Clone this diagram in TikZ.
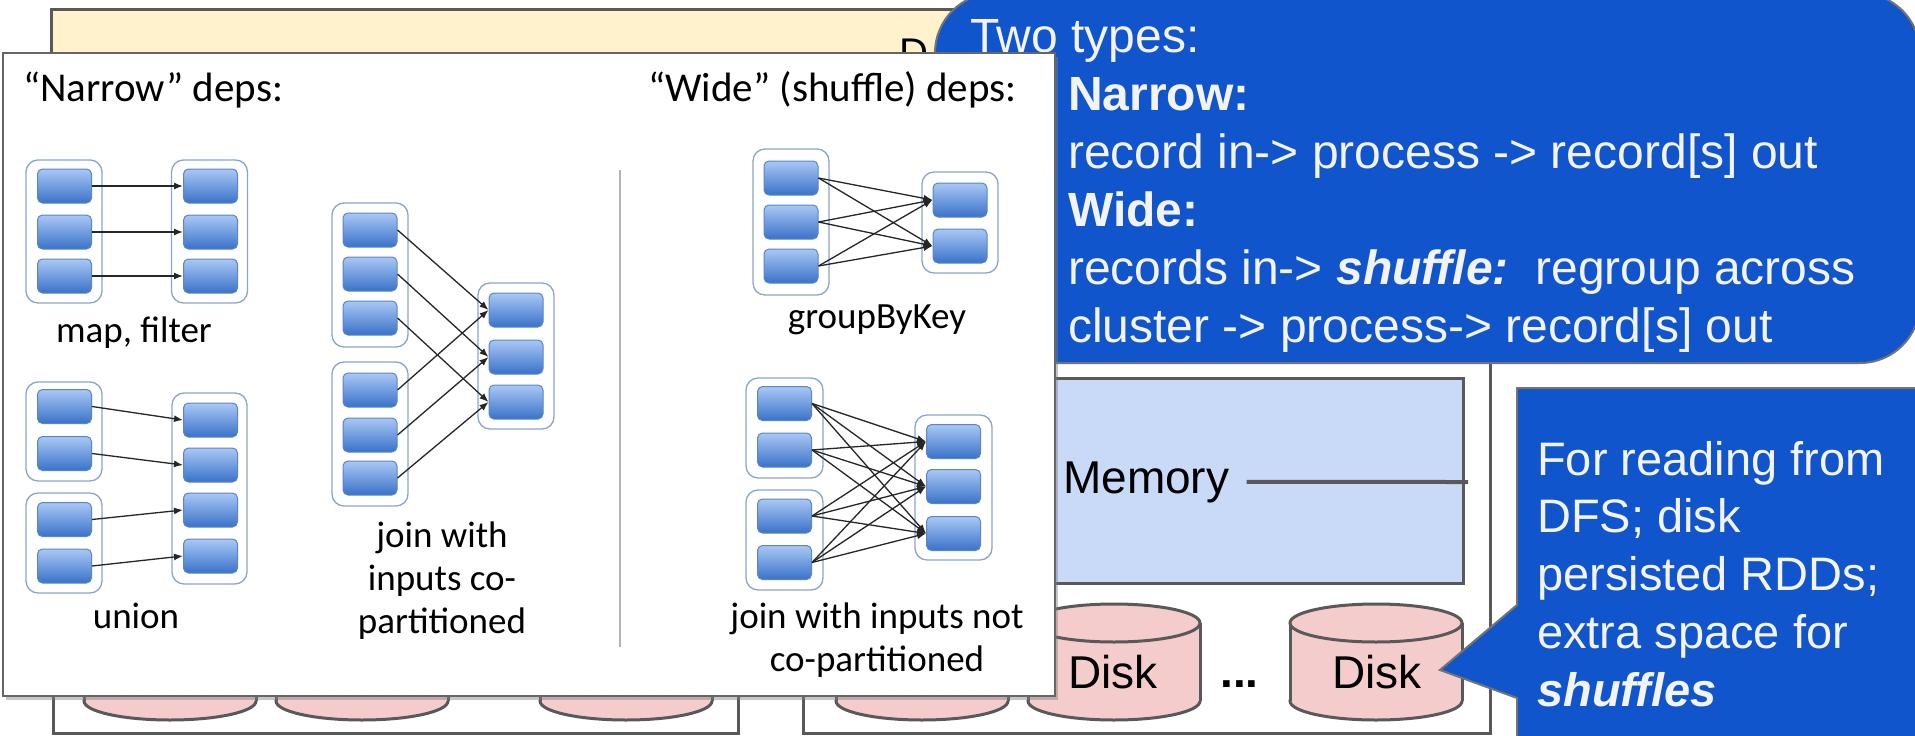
\documentclass[tikz,border=0pt]{standalone}
\usepackage{fontspec}
\setmainfont{Liberation Sans}
\newfontfamily\corbel[Ligatures=TeX]{Carlito}
\usetikzlibrary{arrows.meta,shadows}

\definecolor{driverfill}{HTML}{FFF2CC}
\definecolor{edgegrey}{HTML}{595959}
\definecolor{memfill}{HTML}{C9DAF8}
\definecolor{diskfill}{HTML}{F4CCCC}
\definecolor{calloutblue}{HTML}{1155CC}
\definecolor{callouttext}{HTML}{F3F3F3}
\definecolor{parttop}{HTML}{A9C8F5}
\definecolor{partbot}{HTML}{3A72C8}
\definecolor{partedge}{HTML}{5A86C4}
\definecolor{grpedge}{HTML}{8CA5C6}

\tikzset{
  slidebox/.style={draw=edgegrey, line width=3pt},
  diskbody/.style={fill=diskfill, draw=edgegrey, line width=3pt},
  part/.style={rectangle, rounded corners=5pt, minimum width=54pt, minimum height=34pt,
    inner sep=0pt, draw=partedge, line width=1pt, top color=parttop, bottom color=partbot},
  grp/.style={rectangle, rounded corners=12pt, draw=grpedge, line width=1.3pt, fill=white, inner sep=0pt},
  dep/.style={-{Latex[length=9pt,width=7pt]}, line width=1.3pt, black!85},
  deplabel/.style={font=\corbel\fontsize{37}{43}\selectfont, inner sep=0pt, align=center},
  callout/.style={fill=calloutblue, draw=black!55, line width=2pt},
  calltext/.style={text=callouttext, inner sep=0pt, align=left, font=\fontsize{48}{58}\selectfont},
}

\begin{document}
\begin{tikzpicture}[x=1pt, y=-1pt]
	\useasboundingbox (0,0) rectangle (1915,736);
	\clip (0,0) rectangle (1915,736);

	% DRIVER AND WORKERS
	\filldraw[slidebox, fill=driverfill] (51,9) rectangle (1490,250);
	\node[anchor=base west, inner sep=0pt, font=\fontsize{40}{44}\selectfont] (driver) at (899,66) {D};
	\filldraw[slidebox, fill=white] (53,300) rectangle (738,733);
	\filldraw[slidebox, fill=white] (803,300) rectangle (1490,733);
	\filldraw[slidebox, fill=memfill] (850,378) rectangle (1463,583);
	\foreach \cx in {170,362,626,922,1114,1376} {
		\filldraw[diskbody] (\cx,701) ellipse[x radius=86, y radius=19];
		\fill[diskfill] (\cx-86,623) rectangle (\cx+86,701);
		\draw[edgegrey, line width=3pt] (\cx-86,623) -- (\cx-86,701) (\cx+86,623) -- (\cx+86,701);
		\filldraw[diskbody] (\cx,623) ellipse[x radius=86, y radius=19];
	}
	\node[anchor=base west, inner sep=0pt, font=\fontsize{46}{50}\selectfont] (mem) at (1063,493) {Memory};
	\coordinate (memend) at (1468,482);
	\draw[edgegrey, line width=4pt] ([xshift=17pt]mem.east) -- (memend);
	\node[anchor=base west, inner sep=0pt, font=\fontsize{46}{50}\selectfont] (diska) at (1068,688) {Disk};
	\node[anchor=base west, inner sep=0pt, font=\bfseries\fontsize{46}{50}\selectfont] (dots) at (1220,687) {...};
	\node[anchor=base west, inner sep=0pt, font=\fontsize{46}{50}\selectfont] (diskb) at (1332,688) {Disk};

	% TWO TYPES CALLOUT
	\filldraw[callout, rounded corners=60pt] (935,-7) rectangle (1920,363);
	\node[calltext, anchor=base west] (twotypes) at (970,52) {Two types:};
	\node[calltext, anchor=base west] (typelist) at (1068,342) {\textbf{Narrow:}\\record in-> process -> record[s] out\\\textbf{Wide:}\\records in-> \textbf{\textit{shuffle:}}\ \ regroup across\\cluster -> process-> record[s] out};

	% DEPENDENCY PANEL
	\filldraw[fill=white, draw=black!60, line width=2.5pt, drop shadow={shadow xshift=3pt, shadow yshift=-4pt, opacity=0.45}] (3,53) rectangle (1055,696);
	\node[deplabel, font=\corbel\fontsize{41}{46}\selectfont, anchor=base west] (narrowhdr) at (23,101) {“Narrow” deps:};
	\node[deplabel, font=\corbel\fontsize{41}{46}\selectfont, anchor=base east] (widehdr) at (1017,101) {“Wide” (shuffle) deps:};
	\draw[black!30, line width=2pt] (620,170) -- (620,647);

	% narrow: map, filter
	\node[grp, minimum width=76pt, minimum height=143pt] (mfa) at (64,231.5) {};
	\node[grp, minimum width=76pt, minimum height=143pt] (mfb) at (209.5,231.5) {};
	\foreach \y [count=\i] in {186,232,276} {
		\node[part] (mfa\i) at (64.5,\y) {};
		\node[part] (mfb\i) at (210.5,\y) {};
		\draw[dep] (mfa\i.east) -- (mfb\i.west);
	}
	\node[deplabel, anchor=base] (mflbl) at (134,342) {map, filter};

	% narrow: union
	\node[grp, minimum width=76pt, minimum height=99pt] (una) at (64,431.5) {};
	\node[grp, minimum width=76pt, minimum height=100pt] (unb) at (64,543) {};
	\node[grp, minimum width=75pt, minimum height=191pt] (unc) at (209.5,488.5) {};
	\foreach \y [count=\i] in {406.5,453.5,519.5,566} \node[part] (una\i) at (64.5,\y) {};
	\foreach \y [count=\i] in {420,465,510,556} \node[part] (unc\i) at (210.5,\y) {};
	\foreach \i in {1,...,4} \draw[dep] (una\i.east) -- (unc\i.west);
	\node[deplabel, anchor=base] (unlbl) at (136,628) {union};

	% narrow: join with co-partitioned inputs
	\node[grp, minimum width=76pt, minimum height=144pt] (cja) at (370,275) {};
	\node[grp, minimum width=76pt, minimum height=144pt] (cjb) at (370,434) {};
	\node[grp, minimum width=76pt, minimum height=146pt] (cjc) at (516,356) {};
	\foreach \y [count=\i] in {230,274,318} \node[part] (cja\i) at (370,\y) {};
	\foreach \y [count=\i] in {390,435,478} \node[part] (cjb\i) at (370,\y) {};
	\foreach \y [count=\i] in {310,357,402} \node[part] (cjc\i) at (516,\y) {};
	\foreach \i in {1,2,3} {
		\draw[dep] (cja\i.east) -- (cjc\i.west);
		\draw[dep] (cjb\i.east) -- (cjc\i.west);
	}
	\node[deplabel, anchor=base] (cjlbl) at (442,633) {join with\\inputs co-\\partitioned};

	% wide: groupByKey
	\node[grp, minimum width=76pt, minimum height=146pt] (gka) at (791,222) {};
	\node[grp, minimum width=76pt, minimum height=101pt] (gkb) at (960,222.5) {};
	\foreach \y [count=\i] in {178,222,266} \node[part] (gka\i) at (791,\y) {};
	\foreach \y [count=\i] in {200,246} \node[part] (gkb\i) at (960,\y) {};
	\foreach \i in {1,2,3} \foreach \j in {1,2} \draw[dep] (gka\i.east) -- (gkb\j.west);
	\node[deplabel, anchor=base] (gklbl) at (877,328) {groupByKey};

	% wide: join with inputs not co-partitioned
	\node[grp, minimum width=77pt, minimum height=100pt] (nja) at (784.5,428) {};
	\node[grp, minimum width=77pt, minimum height=100pt] (njb) at (784.5,540) {};
	\node[grp, minimum width=77pt, minimum height=145pt] (njc) at (953.5,487.5) {};
	\foreach \y [count=\i] in {403.5,450,516,562.5} \node[part] (nja\i) at (784.5,\y) {};
	\foreach \y [count=\i] in {441.5,486.5,533.5} \node[part] (njc\i) at (953.5,\y) {};
	\foreach \i in {1,...,4} \foreach \j in {1,2,3} \draw[dep] (nja\i.east) -- (njc\j.west);
	\node[deplabel, anchor=base] (njlbl) at (877,671) {join with inputs not\\co-partitioned};

	% DISK CALLOUT
	\filldraw[callout] (1517,388) -- (1930,388) -- (1930,750) -- (1517,750) -- (1517,698) -- (1440,670) -- (1517,605) -- cycle;
	\node[calltext, font=\fontsize{47}{57.7}\selectfont, anchor=base west] (disknote) at (1537,706) {For reading from\\DFS; disk\\persisted RDDs;\\extra space for\\\textbf{\textit{shuffles}}};
\end{tikzpicture}
\end{document}
